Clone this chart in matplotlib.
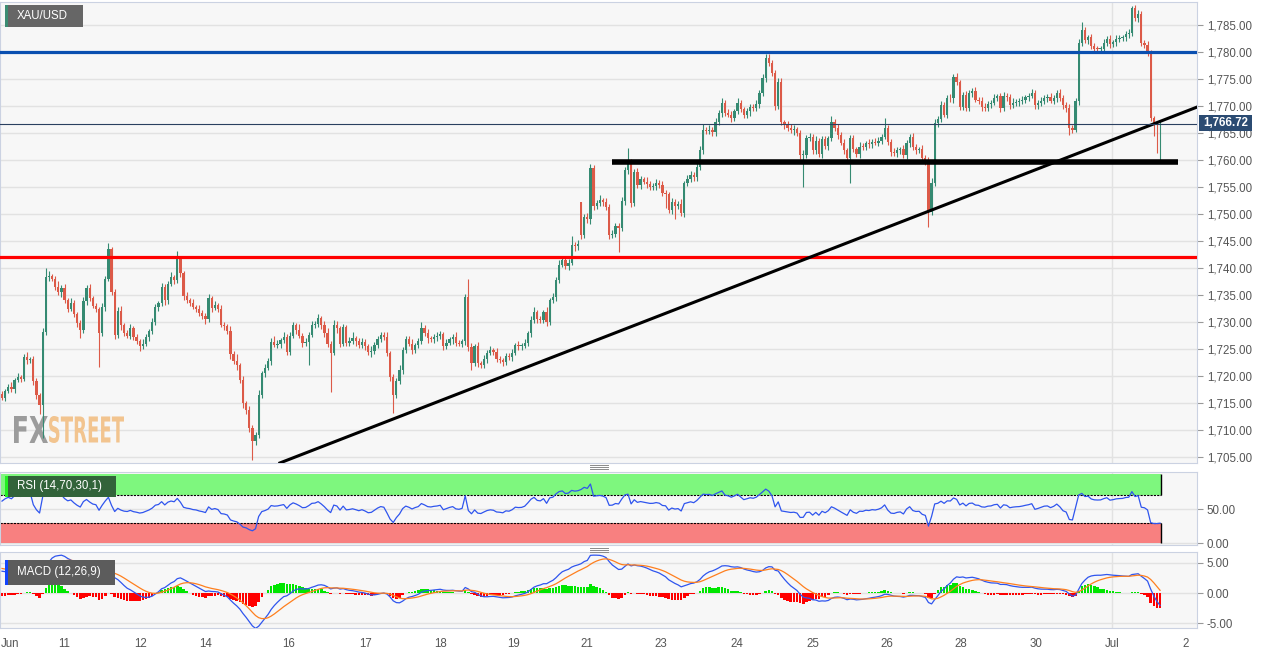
import numpy as np
import pandas as pd
import matplotlib
matplotlib.use("Agg")
import matplotlib.pyplot as plt
from matplotlib.patches import Rectangle, PathPatch
from matplotlib.lines import Line2D
from matplotlib.textpath import TextPath
from matplotlib.font_manager import FontProperties
from matplotlib.transforms import Affine2D

plt.rcParams["font.family"] = ["Liberation Sans", "DejaVu Sans"]

# XAU/USD hourly closes
closes = [
    1716.0, 1717.2, 1718.0, 1717.6, 1719.3, 1719.8, 1719.4, 1723.6, 1723.0, 1723.2,
    1719.0, 1716.5, 1714.6, 1728.1, 1738.3, 1738.5, 1738.0, 1736.5, 1735.5, 1736.3,
    1734.0, 1732.5, 1733.5, 1731.5, 1729.8, 1728.5, 1733.8, 1736.3, 1734.5, 1733.0,
    1732.5, 1728.0, 1732.8, 1738.0, 1743.5, 1735.6, 1727.6, 1732.0, 1729.5, 1728.0,
    1727.5, 1728.8, 1727.2, 1726.5, 1725.5, 1726.0, 1727.2, 1728.3, 1730.0, 1732.8,
    1733.5, 1736.5, 1734.0, 1737.0, 1738.3, 1737.8, 1741.7, 1739.0, 1734.8, 1734.0,
    1733.6, 1732.8, 1732.5, 1731.7, 1731.2, 1730.5, 1734.4, 1732.6, 1733.2, 1732.5,
    1729.5, 1729.2, 1728.4, 1724.0, 1722.8, 1722.0, 1719.3, 1715.0, 1713.7, 1710.4,
    1708.0, 1709.0, 1716.5, 1720.6, 1721.5, 1722.8, 1726.3, 1725.8, 1726.0, 1726.6,
    1727.2, 1724.5, 1727.5, 1729.4, 1728.6, 1727.5, 1726.1, 1726.3, 1727.6, 1729.4,
    1729.6, 1730.7, 1729.5, 1728.0, 1726.0, 1724.3, 1729.4, 1728.8, 1726.0, 1729.0,
    1726.2, 1726.5, 1727.0, 1726.4, 1725.7, 1726.3, 1725.5, 1724.4, 1724.6, 1725.7,
    1726.8, 1727.6, 1727.3, 1724.3, 1719.8, 1716.5, 1719.0, 1721.1, 1724.8, 1726.8,
    1726.0, 1724.8, 1725.8, 1726.5, 1728.8, 1728.0, 1727.0, 1726.8, 1727.2, 1727.4,
    1727.8, 1725.6, 1726.2, 1726.8, 1727.2, 1726.2, 1726.0, 1726.4, 1734.6, 1725.4,
    1722.4, 1725.5, 1722.4, 1722.0, 1723.2, 1724.3, 1724.8, 1724.5, 1723.2, 1723.0,
    1722.6, 1723.7, 1723.5, 1724.3, 1725.7, 1725.5, 1725.6, 1726.2, 1728.0, 1730.4,
    1731.8, 1730.6, 1730.4, 1731.9, 1730.0, 1734.0, 1734.6, 1737.8, 1740.6, 1741.5,
    1740.4, 1741.0, 1744.3, 1744.0, 1744.5, 1746.1, 1749.4, 1749.0, 1758.5, 1751.5,
    1752.0, 1752.6, 1752.2, 1751.3, 1746.1, 1746.3, 1747.8, 1747.5, 1752.5, 1758.1,
    1759.4, 1752.0, 1757.8, 1755.4, 1756.5, 1756.0, 1755.6, 1755.0, 1755.1, 1755.8,
    1755.4, 1753.9, 1753.7, 1750.7, 1752.2, 1751.5, 1751.8, 1750.2, 1755.7, 1756.5,
    1757.3, 1756.8, 1758.7, 1761.9, 1765.6, 1765.4, 1765.6, 1765.1, 1767.0, 1768.7,
    1770.6, 1768.7, 1768.4, 1767.8, 1769.0, 1770.6, 1769.5, 1768.3, 1769.0, 1769.8,
    1769.6, 1770.4, 1772.5, 1775.2, 1778.8, 1778.0, 1776.1, 1770.0, 1774.5, 1767.0,
    1766.5, 1766.0, 1765.5, 1765.7, 1765.0, 1760.9, 1761.0, 1764.1, 1764.3, 1761.8,
    1763.6, 1761.1, 1763.8, 1762.6, 1764.0, 1767.0, 1766.0, 1764.6, 1763.2, 1761.8,
    1760.3, 1764.0, 1762.0, 1761.1, 1762.5, 1762.4, 1763.1, 1762.9, 1763.4, 1763.2,
    1763.6, 1764.3, 1765.9, 1763.3, 1761.5, 1761.3, 1761.8, 1762.0, 1760.9, 1763.1,
    1764.3, 1762.4, 1761.9, 1762.0, 1760.4, 1759.8, 1750.4, 1755.7, 1766.8, 1767.6,
    1770.2, 1768.4, 1771.5, 1771.4, 1775.4, 1774.4, 1769.9, 1772.0, 1769.6, 1772.4,
    1772.8, 1771.2, 1771.0, 1769.8, 1769.6, 1770.4, 1770.6, 1771.5, 1771.8, 1769.6,
    1771.9, 1771.6, 1770.2, 1770.6, 1770.8, 1770.9, 1771.2, 1771.6, 1771.9, 1772.4,
    1770.1, 1770.5, 1771.0, 1771.5, 1771.6, 1771.0, 1771.5, 1772.4, 1771.5, 1770.1,
    1769.6, 1765.9, 1765.6, 1770.9, 1781.7, 1784.0, 1782.2, 1782.7, 1781.1, 1780.6,
    1780.5, 1780.6, 1781.7, 1782.5, 1781.4, 1781.8, 1782.4, 1782.6, 1782.7, 1783.3,
    1783.5, 1788.1, 1786.3, 1787.1, 1781.6, 1781.3, 1780.0, 1767.8, 1766.6, 1766.5,
    1766.72,
]
first_open = 1716.6
gap_opens = {185: 1752.3}   # weekend gap at the Sunday open

upper_wick = [
    0.6, 0.4, 0.5, 0.8, 0.3, 0.7, 0.4, 0.5, 0.9, 0.4,
    0.5, 0.6, 0.3, 0.8, 1.7, 0.9, 0.4, 0.6, 1.1, 0.5,
    0.8, 0.4, 1.0, 0.5, 0.3, 0.6, 0.9, 0.5, 0.7, 0.4,
    0.6, 0.3, 0.8, 0.5, 1.1, 0.4, 0.6, 0.7, 0.9, 0.4,
    0.5, 0.8, 0.4, 0.6, 0.3, 0.9, 0.5, 0.4, 0.7, 0.6,
    0.4, 0.8, 0.5, 0.6, 0.9, 0.4, 1.5, 0.6, 0.5, 0.8,
    0.4, 0.6, 0.3, 0.7, 0.5, 0.4, 0.8, 0.5, 0.6, 0.4,
    0.7, 0.5, 0.4, 0.9, 0.6, 1.2, 0.5, 0.7, 0.4, 0.8,
    0.5, 0.6, 0.9, 0.4, 0.7, 0.5, 0.8, 1.1, 0.6, 0.4,
    0.9, 0.5, 0.7, 0.6, 0.4, 1.0, 0.5, 0.8, 0.6, 0.7,
    0.5, 0.8, 0.4, 0.6, 0.9, 0.5, 1.0, 0.7, 0.4, 0.6,
    0.5, 0.7, 1.2, 0.4, 0.6, 0.8, 0.5, 0.4, 0.9, 0.6,
    0.7, 0.5, 0.6, 0.8, 0.4, 0.5, 0.6, 0.9, 0.5, 0.7,
    0.6, 0.8, 0.4, 0.5, 1.2, 0.6, 0.7, 0.4, 0.5, 0.8,
    0.6, 0.4, 0.7, 0.5, 0.6, 0.9, 0.4, 0.5, 0.6, 3.4,
    0.7, 0.5, 0.8, 0.4, 0.6, 0.5, 0.7, 0.4, 0.6, 0.5,
    0.4, 0.6, 0.5, 0.7, 0.4, 0.8, 0.5, 0.6, 0.4, 0.7,
    0.9, 0.5, 0.6, 0.4, 0.8, 0.5, 0.7, 0.6, 0.9, 0.5,
    0.8, 0.6, 1.7, 0.5, 0.7, 0.0, 0.6, 0.8, 0.7, 0.5,
    0.6, 0.9, 0.4, 0.7, 0.5, 0.8, 0.6, 0.5, 0.7, 0.6,
    2.8, 0.7, 0.5, 0.8, 0.6, 0.4, 0.9, 0.5, 0.7, 0.6,
    0.5, 0.8, 0.6, 0.4, 0.7, 0.5, 0.6, 0.9, 0.5, 0.7,
    0.6, 0.5, 0.9, 0.7, 1.0, 0.6, 0.8, 0.5, 0.7, 0.6,
    0.8, 0.5, 0.7, 0.6, 0.5, 0.9, 0.6, 0.4, 0.7, 0.5,
    0.6, 0.8, 0.5, 0.7, 0.8, 0.9, 0.6, 0.5, 0.7, 0.6,
    0.5, 0.7, 0.6, 0.8, 0.5, 0.6, 0.9, 0.5, 0.7, 0.6,
    0.8, 0.5, 0.6, 0.7, 0.5, 1.2, 0.6, 0.7, 0.5, 0.6,
    0.5, 0.7, 0.6, 0.5, 0.8, 0.6, 0.4, 0.7, 0.5, 0.6,
    0.7, 0.5, 1.8, 0.6, 0.5, 0.7, 0.6, 0.5, 0.8, 0.6,
    0.5, 0.7, 0.6, 0.5, 0.8, 0.6, 0.7, 0.9, 0.8, 0.6,
    0.7, 0.6, 0.5, 0.8, 0.6, 0.7, 0.5, 0.6, 0.8, 0.5,
    0.6, 0.7, 0.5, 0.6, 0.8, 0.5, 0.6, 0.7, 0.5, 0.6,
    0.7, 0.5, 0.6, 0.8, 0.5, 0.6, 0.7, 0.5, 0.6, 0.8,
    0.5, 0.6, 0.7, 0.5, 0.6, 0.8, 0.5, 0.6, 0.7, 0.5,
    0.6, 0.8, 0.5, 0.6, 0.7, 1.5, 0.6, 0.5, 0.7, 0.6,
    0.5, 0.6, 0.7, 0.5, 0.6, 0.5, 0.7, 0.6, 0.5, 0.6,
    0.7, 0.5, 0.6, 0.7, 0.5, 0.6, 0.8, 0.3, 0.4, 0.3,
    0.5,
]
lower_wick = [
    0.5, 0.7, 0.4, 0.6, 0.8, 0.5, 0.6, 0.4, 0.7, 0.5,
    0.6, 0.8, 1.6, 6.1, 0.5, 0.7, 0.4, 0.6, 0.5, 0.8,
    0.5, 0.7, 0.4, 0.6, 0.8, 1.5, 0.5, 0.6, 0.7, 0.4,
    0.6, 6.3, 0.5, 0.7, 0.4, 0.6, 0.8, 0.5, 0.9, 0.6,
    0.4, 0.7, 0.5, 0.6, 0.8, 0.5, 0.4, 0.7, 0.6, 0.5,
    0.7, 0.5, 0.8, 0.6, 0.4, 0.7, 0.5, 0.6, 0.8, 0.5,
    0.6, 0.4, 0.7, 0.5, 0.6, 0.8, 0.5, 0.7, 0.4, 0.6,
    0.5, 0.7, 0.6, 0.8, 0.5, 0.9, 0.6, 1.0, 0.7, 0.8,
    3.6, 0.7, 0.5, 0.6, 0.8, 0.4, 0.7, 0.5, 0.6, 0.8,
    0.5, 0.7, 0.6, 0.4, 0.8, 0.5, 0.7, 0.6, 4.3, 0.4,
    0.6, 0.5, 0.8, 0.7, 0.6, 7.3, 0.5, 0.8, 0.6, 0.5,
    0.7, 0.6, 0.5, 0.8, 0.6, 0.5, 0.7, 0.6, 0.8, 0.5,
    0.6, 0.5, 0.7, 0.6, 0.8, 3.3, 0.6, 0.5, 0.7, 0.6,
    0.5, 0.8, 0.6, 0.7, 0.5, 0.6, 0.8, 0.5, 0.6, 0.7,
    0.5, 0.7, 0.6, 0.5, 0.8, 0.6, 0.5, 0.7, 0.6, 0.8,
    1.2, 0.6, 0.7, 0.5, 0.6, 0.8, 0.5, 0.7, 0.6, 0.5,
    0.7, 0.5, 0.6, 0.8, 0.5, 0.6, 0.7, 0.5, 0.6, 0.8,
    0.5, 0.7, 0.6, 0.5, 0.8, 0.6, 0.5, 0.7, 0.6, 0.5,
    0.6, 0.7, 0.5, 0.8, 0.6, 0.7, 0.5, 0.6, 0.8, 0.7,
    0.5, 0.6, 0.8, 0.5, 0.7, 0.6, 0.5, 4.5, 0.6, 0.8,
    0.6, 0.7, 0.5, 0.6, 0.8, 0.5, 0.7, 0.6, 0.5, 0.7,
    0.6, 0.5, 2.5, 0.6, 0.7, 2.5, 0.6, 0.5, 0.7, 0.6,
    0.5, 0.6, 0.7, 0.5, 0.8, 0.6, 0.5, 0.7, 0.6, 0.5,
    0.7, 0.6, 0.5, 0.8, 0.6, 0.5, 0.7, 0.6, 0.5, 0.8,
    0.6, 0.5, 0.7, 0.6, 0.8, 0.5, 0.6, 0.7, 0.5, 0.6,
    0.7, 0.6, 0.5, 0.8, 0.6, 0.7, 5.9, 0.6, 0.5, 0.7,
    0.6, 0.5, 0.8, 0.6, 0.7, 0.5, 0.6, 0.7, 0.5, 0.6,
    0.7, 4.6, 0.6, 0.5, 0.8, 0.6, 0.5, 0.7, 0.6, 0.5,
    0.6, 0.7, 0.5, 0.6, 0.8, 0.5, 0.7, 0.6, 0.5, 0.7,
    0.6, 0.5, 0.7, 0.6, 0.5, 0.8, 2.8, 0.6, 0.5, 0.7,
    0.6, 0.5, 0.7, 0.6, 0.8, 0.5, 0.6, 0.7, 0.5, 0.6,
    0.7, 0.5, 0.6, 0.8, 0.5, 0.6, 0.7, 0.5, 0.6, 0.8,
    0.5, 0.6, 0.7, 0.5, 0.6, 0.8, 0.5, 0.6, 0.7, 0.5,
    0.6, 0.7, 0.5, 0.6, 0.8, 0.5, 0.6, 0.7, 0.5, 0.6,
    0.7, 1.2, 0.6, 0.5, 0.7, 0.6, 0.5, 0.8, 0.6, 0.7,
    0.5, 0.6, 0.7, 0.5, 0.6, 0.5, 0.7, 0.6, 0.5, 0.6,
    0.7, 0.5, 0.6, 0.7, 0.5, 0.6, 0.8, 0.6, 2.1, 5.2,
    6.5,
]

# indicator state carried in from before the visible window
ema12_start = 1714.6
ema26_start = 1710.8
signal_start = 4.2
avg_gain_start = 0.62
avg_loss_start = 0.34

# levels drawn on the chart
resistance = 1780.0
old_high = 1742.0
support = 1759.7
support_span = (194.9, 375.7)
trend_a = (88.8, 1703.9)
trend_b = (381.8, 1769.8)

tick_pos = [2.6, 19.8, 44.4, 65.2, 91.7, 116.0, 140.0, 163.3, 186.9, 210.5,
            234.8, 259.1, 282.7, 306.4, 330.4, 354.6, 378.3]
tick_labels = ["Jun", "11", "12", "14", "16", "17", "18", "19", "21", "23",
               "24", "25", "26", "28", "30", "Jul", "2"]

GREEN = "#358a72"
RED = "#dc5a48"
BG = "#f7f7f7"
SPINE = "#cbd2e2"
GRID = "#e2e2e2"
TXT = "#555555"

c = np.array(closes)
n = len(c)
idx = np.arange(n)
o = np.r_[first_open, c[:-1]]
for k, v in gap_opens.items():
    o[k] = v
hi = np.maximum(o, c) + np.array(upper_wick)
lo = np.minimum(o, c) - np.array(lower_wick)


def ema(values, span, seed):
    a = 2 / (span + 1)
    out, e = [], seed
    for v in values:
        e += a * (v - e)
        out.append(e)
    return np.array(out)


# RSI(14), Wilder smoothing
d = np.diff(np.r_[first_open, c])
g, l = avg_gain_start, avg_loss_start
rsi = []
for v in d:
    g += (max(v, 0) - g) / 14
    l += (max(-v, 0) - l) / 14
    rsi.append(100 * g / (g + l))
rsi = np.array(rsi)

macd = ema(c, 12, ema12_start) - ema(c, 26, ema26_start)
signal = ema(macd, 9, signal_start)
hist = macd - signal

W, H = 1269, 655


def fx(px):
    return px / W


def fy(py):
    return 1 - py / H


fig = plt.figure(figsize=(12.69, 6.55), dpi=100, facecolor="white")
ax = fig.add_axes([0, fy(463), fx(1197), (463 - 2) / H])
ax_rsi = fig.add_axes([0, fy(545), fx(1197), (545 - 472) / H])
ax_macd = fig.add_axes([0, fy(628), fx(1197), (628 - 552) / H])

xlim = (-0.64, 381.8)
jul_x = tick_pos[tick_labels.index("Jul")]
for a in (ax, ax_rsi, ax_macd):
    a.set_facecolor(BG)
    a.set_xlim(*xlim)
    a.yaxis.tick_right()
    a.tick_params(axis="y", length=4, color="#999999", labelcolor=TXT, labelsize=8.3, pad=3)
    for sp in a.spines.values():
        sp.set_color(SPINE)
    a.grid(axis="y", color=GRID, lw=1)
    a.set_axisbelow(True)
    a.axvline(jul_x, color=GRID, lw=1, zorder=0.6)
    a.set_xticks([])

# ---- price panel
ax.set_ylim(1703.89, 1789.26)
ax.set_yticks(np.arange(1705, 1786, 5))
ax.set_yticklabels([f"{v:,.2f}" for v in np.arange(1705, 1786, 5)])

col = np.where(c >= o, GREEN, RED)
ax.vlines(idx, lo, hi, colors=col, lw=0.8, zorder=2)
body = np.maximum(np.abs(c - o), 0.15)
ax.bar(idx, body, bottom=np.minimum(o, c), width=0.72, color=col, zorder=3)

ax.axhline(resistance, color="#0a4fb0", lw=2.3, zorder=4)
ax.axhline(old_high, color="#ff0000", lw=2.3, zorder=4)
ax.hlines(support, *support_span, color="black", lw=4, zorder=4)
ax.plot([trend_a[0], trend_b[0]], [trend_a[1], trend_b[1]], color="black", lw=2.2, zorder=4)
ax.axhline(c[-1], color="#2a4060", lw=0.8, zorder=4)

# watermark
fp = FontProperties(family="DejaVu Sans", weight="bold")
for word, x0, x1, wcol in (("FX", 14, 48, "#9c9c9c"), ("STREET", 49, 124, "#f2c48f")):
    tp = TextPath((0, 0), word, size=40, prop=fp)
    bb = tp.get_extents()
    tr = (Affine2D().translate(-bb.x0, -bb.y0)
          .scale((x1 - x0) / bb.width, 27 / bb.height)
          .translate(x0, H - 443))
    ax.add_patch(PathPatch(tp, transform=tr, facecolor=wcol, lw=0, zorder=1))

# ---- RSI panel
ax_rsi.set_ylim(-2.9, 104.4)
ax_rsi.set_yticks([0, 50])
ax_rsi.set_yticklabels(["0.00", "50.00"])
x_end = n - 0.7
ax_rsi.add_patch(Rectangle((xlim[0], 70), x_end - xlim[0], 31.5, color="#7ef77e", lw=0, zorder=1))
ax_rsi.add_patch(Rectangle((xlim[0], 0), x_end - xlim[0], 30, color="#f88080", lw=0, zorder=1))
ax_rsi.hlines([70, 30], xlim[0], x_end, colors="black", linestyles=(0, (2, 1)), lw=0.8, zorder=2)
ax_rsi.vlines([x_end, x_end], [70, 0], [101.5, 30], colors="black", lw=1, zorder=2)
ax_rsi.plot(idx, rsi, color="#2f55ee", lw=0.9, zorder=3)

# ---- MACD panel
ax_macd.set_ylim(-5.83, 6.83)
ax_macd.set_yticks([-5, 0, 5])
ax_macd.set_yticklabels(["-5.00", "0.00", "5.00"])
ax_macd.bar(idx, hist, width=0.8, color=np.where(hist >= 0, "#00e600", "#ff0000"), zorder=2)
ax_macd.plot(idx, macd, color="#2f55ee", lw=0.9, zorder=3)
ax_macd.plot(idx, signal, color="#ff7f1e", lw=0.9, zorder=3)
ax_macd.set_xticks(tick_pos)
ax_macd.set_xticklabels(tick_labels)
ax_macd.tick_params(axis="x", length=0, pad=7, labelsize=8.3, labelcolor=TXT)

# ---- panel labels
def tag(x, y, w, h, text, fill, bar):
    fig.add_artist(Rectangle((fx(x), fy(y + h)), w / W, h / H, transform=fig.transFigure,
                             color=fill, lw=0, zorder=10))
    fig.add_artist(Rectangle((fx(x), fy(y + h)), 3 / W, h / H, transform=fig.transFigure,
                             color=bar, lw=0, zorder=11))
    fig.text(fx(x + 12), fy(y + h / 2), text, color="white", fontsize=8.3, va="center", zorder=12)


tag(5, 5, 78, 22, "XAU/USD", "#666666", "#3b8c72")
tag(5, 476, 111, 21, "RSI (14,70,30,1)", "#32633a", "#22ee22")
tag(5, 560, 110, 25, "MACD (12,26,9)", "#5c5c5c", "#1144ff")

# current price box
fig.add_artist(Rectangle((fx(1199), fy(131)), 53 / W, 16 / H, transform=fig.transFigure,
                         color="#2b4b72", lw=0, zorder=10))
fig.text(fx(1225.5), fy(123), f"{c[-1]:,.2f}", color="white", fontsize=8.3, fontweight="bold",
         ha="center", va="center", zorder=11)

# panel separator grips
for yy in (465, 467, 469, 548, 550, 552):
    fig.add_artist(Line2D([fx(590), fx(608)], [fy(yy), fy(yy)], transform=fig.transFigure,
                          color="#8a8a8a", lw=0.7))

fig.savefig("out.png", dpi=100, facecolor="white")
